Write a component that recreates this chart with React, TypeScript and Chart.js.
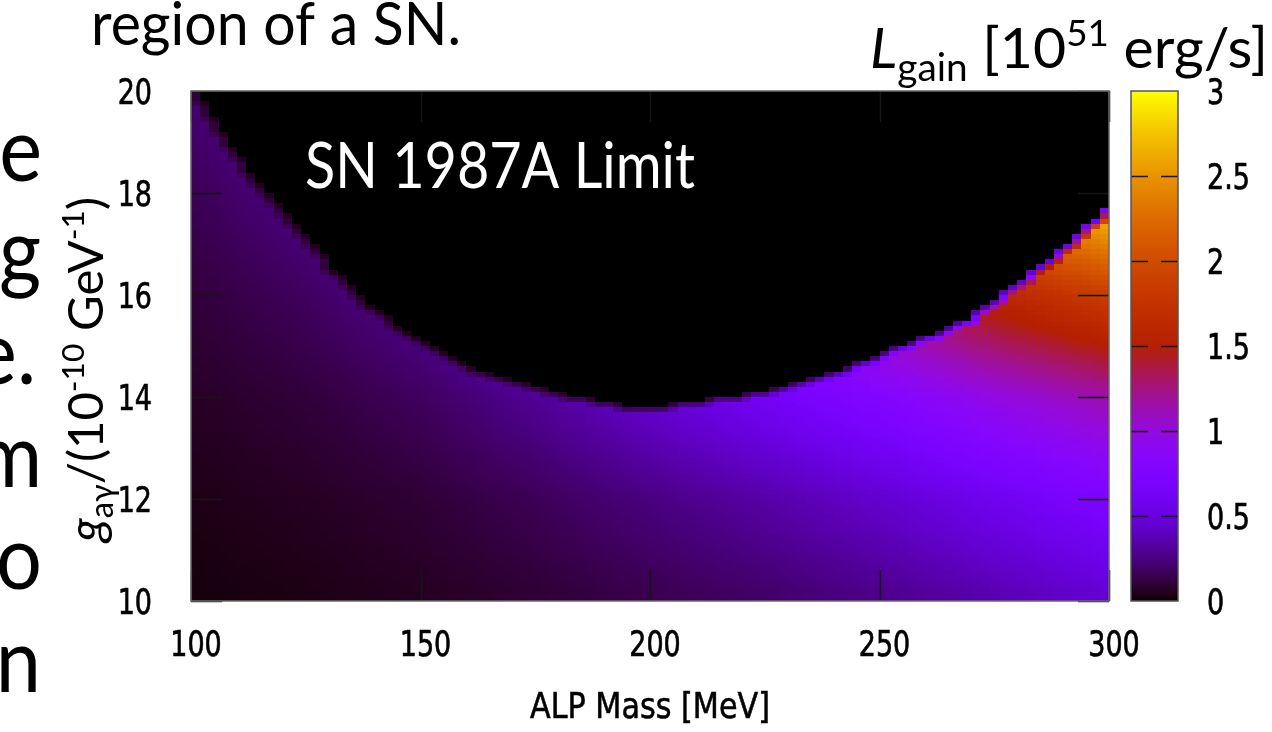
import React, { useEffect, useRef } from "react";
import { Chart, registerables } from "chart.js";

Chart.register(...registerables);

// ---- data ----
// L_gain [10^51 erg/s] at ALP mass (MeV) x coupling g (1e-10 GeV^-1)
const MASS = [100, 125, 150, 175, 200, 225, 250, 275, 300];
const COUPLING = [10, 12, 14, 16, 18, 20];
const L_G10 = [0.02, 0.035, 0.058, 0.095, 0.14, 0.19, 0.26, 0.35, 0.45];
const L_G12 = [0.04, 0.065, 0.1, 0.165, 0.25, 0.34, 0.45, 0.58, 0.72];
const L_G14 = [0.07, 0.11, 0.18, 0.3, 0.46, 0.62, 0.78, 0.98, 1.15];
const L_G16 = [0.11, 0.18, 0.3, 0.5, 0.78, 1.0, 1.28, 1.6, 1.85];
const L_G18 = [0.16, 0.27, 0.46, 0.78, 1.2, 1.6, 2.0, 2.5, 2.95];
const L_G20 = [0.22, 0.38, 0.66, 1.1, 1.7, 2.3, 3.0, 3.6, 4.3];
const L_ROWS = [L_G10, L_G12, L_G14, L_G16, L_G18, L_G20];

// upper edge of the allowed region (SN 1987A limit): g_max vs mass
const BOUNDARY_MASS = [100, 110, 120, 130, 140, 150, 160, 170, 180, 190, 200, 210, 220, 230, 240, 250, 260, 270, 280, 290, 300];
const BOUNDARY_G = [20.0, 18.6, 17.57, 16.49, 15.62, 15.05, 14.55, 14.28, 14.01, 13.83, 13.72, 13.86, 13.99, 14.15, 14.4, 14.77, 15.12, 15.49, 16.13, 16.83, 17.65];

const X_TICKS = [100, 150, 200, 250, 300];
const Y_TICKS = [10, 12, 14, 16, 18, 20];
const CB_TICKS = [0, 0.5, 1, 1.5, 2, 2.5, 3];

// grid resolution of the map (pm3d cells)
const GRID_DM = 2;
const GRID_DG = 0.1;

function interp1(xs: number[], ys: number[], x: number) {
  if (x <= xs[0]) return ys[0];
  for (let i = 0; i < xs.length - 1; i++) {
    if (x <= xs[i + 1]) {
      const t = (x - xs[i]) / (xs[i + 1] - xs[i]);
      return ys[i] + t * (ys[i + 1] - ys[i]);
    }
  }
  return ys[ys.length - 1];
}

function lookupL(m: number, g: number) {
  const col = L_ROWS.map((row) => interp1(MASS, row, m));
  return interp1(COUPLING, col, g);
}

function palette(v: number) {
  const x = Math.min(1, Math.max(0, v / 3));
  const r = Math.sqrt(x);
  const g = x * x * x;
  const b = Math.max(0, Math.sin(2 * Math.PI * x));
  return `rgb(${Math.round(r * 255)},${Math.round(g * 255)},${Math.round(b * 255)})`;
}

type Run = { t: string; size: number; family: string; style?: string; dy?: number };

function drawRuns(
  ctx: CanvasRenderingContext2D,
  runs: Run[],
  x: number,
  y: number,
  opts: { width?: number; sx?: number; align?: "left" | "center" | "right"; rotate?: number; color?: string; stroke?: number }
) {
  ctx.save();
  let total = 0;
  const widths: number[] = [];
  for (const r of runs) {
    ctx.font = `${r.style || "normal"} ${r.size}px ${r.family}`;
    const w = ctx.measureText(r.t).width;
    widths.push(w);
    total += w;
  }
  const sx = opts.width ? opts.width / total : opts.sx ?? 1;
  ctx.translate(x, y);
  if (opts.rotate) ctx.rotate(opts.rotate);
  ctx.scale(sx, 1);
  let cx = 0;
  if (opts.align === "center") cx = -total / 2;
  else if (opts.align === "right") cx = -total;
  ctx.fillStyle = opts.color || "#000";
  ctx.strokeStyle = opts.color || "#000";
  ctx.lineWidth = opts.stroke || 0;
  ctx.textBaseline = "alphabetic";
  ctx.textAlign = "left";
  runs.forEach((r, i) => {
    ctx.font = `${r.style || "normal"} ${r.size}px ${r.family}`;
    ctx.fillText(r.t, cx, r.dy || 0);
    if (opts.stroke) ctx.strokeText(r.t, cx, r.dy || 0);
    cx += widths[i];
  });
  ctx.restore();
}

const GNU = '"DejaVu Sans"';
const SLIDE = "Lato";

function gnuLabel(ctx: CanvasRenderingContext2D, text: string, x: number, yCenter: number, align: "left" | "center" | "right") {
  drawRuns(ctx, [{ t: text, size: 36, family: GNU }], x, yCenter + 13, { sx: 0.75, align, color: "#000", stroke: 0.7 });
}

const heatPlugin = {
  id: "heatmap",
  beforeDraw(chart: any) {
    const ctx = chart.ctx as CanvasRenderingContext2D;
    ctx.save();
    ctx.fillStyle = "#fff";
    ctx.fillRect(0, 0, chart.width, chart.height);
    ctx.restore();
  },
  afterDraw(chart: any) {
    const ctx = chart.ctx as CanvasRenderingContext2D;
    const ca = chart.chartArea;
    const xs = chart.scales.x;
    const ys = chart.scales.y;
    const cs = chart.scales.cb;
    ctx.save();

    // excluded region background
    ctx.fillStyle = "#000";
    ctx.fillRect(ca.left, ca.top, ca.right - ca.left, ca.bottom - ca.top);

    // node values (0 above the limit)
    const nM = Math.round((xs.max - xs.min) / GRID_DM) + 1;
    const nG = Math.round((ys.max - ys.min) / GRID_DG) + 1;
    const vals: number[][] = [];
    for (let k = 0; k < nM; k++) {
      const m = xs.min + k * GRID_DM;
      const gMax = interp1(BOUNDARY_MASS, BOUNDARY_G, m);
      const col: number[] = [];
      for (let l = 0; l < nG; l++) {
        const g = ys.min + l * GRID_DG;
        col.push(g <= gMax + 1e-9 ? lookupL(m, g) : 0);
      }
      vals.push(col);
    }
    for (let k = 0; k < nM - 1; k++) {
      const m0 = xs.min + k * GRID_DM;
      const m1 = m0 + GRID_DM;
      const x0 = Math.round(xs.getPixelForValue(m0));
      const x1 = Math.round(xs.getPixelForValue(m1));
      for (let l = 0; l < nG - 1; l++) {
        const v = (vals[k][l] + vals[k + 1][l] + vals[k][l + 1] + vals[k + 1][l + 1]) / 4;
        if (v <= 0) continue;
        const g0 = ys.min + l * GRID_DG;
        const g1 = g0 + GRID_DG;
        const y0 = Math.round(ys.getPixelForValue(g1));
        const y1 = Math.round(ys.getPixelForValue(g0));
        ctx.fillStyle = palette(v);
        ctx.fillRect(x0, y0, x1 - x0, y1 - y0);
      }
    }

    // ticks (inward) and border
    ctx.strokeStyle = "#151515";
    ctx.lineWidth = 1.5;
    ctx.beginPath();
    for (const t of ys.ticks) {
      const y = Math.round(ys.getPixelForValue(t.value)) + 0.5;
      ctx.moveTo(ca.left, y);
      ctx.lineTo(ca.left + 31, y);
      ctx.moveTo(ca.right, y);
      ctx.lineTo(ca.right - 31, y);
    }
    for (const t of xs.ticks) {
      const x = Math.round(xs.getPixelForValue(t.value)) + 0.5;
      ctx.moveTo(x, ca.bottom);
      ctx.lineTo(x, ca.bottom - 31);
      ctx.moveTo(x, ca.top);
      ctx.lineTo(x, ca.top + 31);
    }
    ctx.stroke();
    ctx.strokeStyle = "#6a6a6a";
    ctx.lineWidth = 1.5;
    ctx.strokeRect(ca.left, ca.top, ca.right - ca.left, ca.bottom - ca.top);

    // colour box
    const cbL = 1131;
    const cbR = 1178;
    const top = Math.round(cs.getPixelForValue(cs.max));
    const bot = Math.round(cs.getPixelForValue(cs.min));
    for (let y = top; y < bot; y++) {
      ctx.fillStyle = palette(cs.getValueForPixel(y + 0.5));
      ctx.fillRect(cbL, y, cbR - cbL, 1);
    }
    ctx.strokeStyle = "#151515";
    ctx.lineWidth = 1.5;
    ctx.beginPath();
    for (const t of cs.ticks) {
      if (t.value <= cs.min || t.value >= cs.max) continue;
      const y = Math.round(cs.getPixelForValue(t.value)) + 0.5;
      ctx.moveTo(cbL, y);
      ctx.lineTo(cbL + 17, y);
      ctx.moveTo(cbR, y);
      ctx.lineTo(cbR - 17, y);
    }
    ctx.stroke();
    ctx.strokeStyle = "#555";
    ctx.lineWidth = 1.5;
    ctx.strokeRect(cbL, top, cbR - cbL, bot - top);

    // tick labels
    for (const t of xs.ticks) gnuLabel(ctx, String(t.value), xs.getPixelForValue(t.value) + 5, 643, "center");
    for (const t of ys.ticks) gnuLabel(ctx, String(t.value), 152, ys.getPixelForValue(t.value), "right");
    for (const t of cs.ticks) gnuLabel(ctx, String(t.value), 1207, cs.getPixelForValue(t.value), "left");

    // axis titles
    drawRuns(ctx, [{ t: "ALP Mass [MeV]", size: 36, family: GNU }], 650, 718, { width: 240, align: "center", color: "#000", stroke: 0.6 });
    drawRuns(
      ctx,
      [
        { t: "g", size: 48, family: SLIDE, style: "italic" },
        { t: "a\u03b3", size: 32, family: SLIDE, dy: 10 },
        { t: "/(10", size: 48, family: SLIDE },
        { t: "-10", size: 31, family: SLIDE, dy: -19 },
        { t: " GeV", size: 48, family: SLIDE },
        { t: "-1", size: 31, family: SLIDE, dy: -19 },
        { t: ")", size: 48, family: SLIDE },
      ],
      103,
      542,
      { width: 345, rotate: -Math.PI / 2 }
    );
    drawRuns(
      ctx,
      [
        { t: "L", size: 56, family: SLIDE, style: "italic" },
        { t: "gain", size: 38, family: SLIDE, dy: 13 },
        { t: " [10", size: 56, family: SLIDE },
        { t: "51", size: 36, family: SLIDE, dy: -22 },
        { t: " erg/s]", size: 56, family: SLIDE },
      ],
      870,
      68,
      { width: 398 }
    );

    // in-plot annotation
    drawRuns(ctx, [{ t: "SN 1987A Limit", size: 63, family: SLIDE }], 305, 188, { width: 390, color: "#fff" });

    // surrounding slide text
    drawRuns(ctx, [{ t: "region of a SN.", size: 60, family: SLIDE }], 91, 45, { width: 370 });
    const side: [string, number, number][] = [
      ["e", 42, 181],
      ["g", 41, 282],
      ["e.", 36, 384],
      ["m", 42, 487],
      ["o", 42, 589],
      ["n", 41, 692],
    ];
    for (const [t, x, y] of side) drawRuns(ctx, [{ t, size: 90, family: SLIDE }], x, y, { align: "right", sx: 0.9 });

    ctx.restore();
  },
};

export default function App() {
  const ref = useRef<HTMLCanvasElement>(null);
  useEffect(() => {
    const canvas = ref.current!;
    const chart = new Chart(canvas, {
      type: "scatter",
      data: { datasets: [{ data: [] }] },
      options: {
        animation: false,
        responsive: false,
        maintainAspectRatio: false,
        devicePixelRatio: 1,
        layout: { padding: { top: 91, left: 0, right: 0, bottom: 0 } },
        plugins: { legend: { display: false }, tooltip: { enabled: false } },
        scales: {
          x: {
            type: "linear",
            position: "bottom",
            min: 100,
            max: 300,
            ticks: { display: false },
            grid: { display: false },
            border: { display: false },
            afterBuildTicks: (s: any) => {
              s.ticks = X_TICKS.map((v) => ({ value: v }));
            },
            afterFit: (s: any) => {
              s.height = 131;
            },
          },
          y: {
            type: "linear",
            position: "left",
            min: 10,
            max: 20,
            ticks: { display: false },
            grid: { display: false },
            border: { display: false },
            afterBuildTicks: (s: any) => {
              s.ticks = Y_TICKS.map((v) => ({ value: v }));
            },
            afterFit: (s: any) => {
              s.width = 191;
            },
          },
          cb: {
            type: "linear",
            position: "right",
            min: 0,
            max: 3,
            ticks: { display: false },
            grid: { display: false },
            border: { display: false },
            afterBuildTicks: (s: any) => {
              s.ticks = CB_TICKS.map((v) => ({ value: v }));
            },
            afterFit: (s: any) => {
              s.width = 163;
            },
          },
        },
      } as any,
      plugins: [heatPlugin as any],
    });
    return () => chart.destroy();
  }, []);
  return (
    <canvas
      ref={ref}
      width={1272}
      height={732}
      style={{ position: "absolute", left: 0, top: 0, width: 1272, height: 732 }}
    />
  );
}
